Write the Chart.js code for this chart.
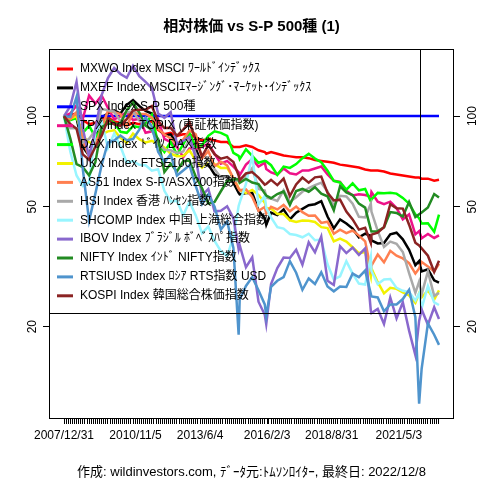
<!DOCTYPE html>
<html>
<head>
<meta charset="utf-8">
<script src="https://cdn.jsdelivr.net/npm/chart.js@4.4.0/dist/chart.umd.min.js"></script>
<title>相対株価 vs S-P 500種 (1)</title>
<style>
  html, body { margin: 0; padding: 0; background: #fff; }
  #wrap { position: relative; width: 480px; height: 480px; }
</style>
</head>
<body>
<div id="wrap"><canvas id="myChart" width="480" height="480"></canvas></div>
<script>
// x = months since 2007/12/31 (quarter ends plus a few spike dates)
const months = [0,3,6,9,12,15,18,21,24,27,30,33,36,39,42,45,48,51,54,57,60,63,66,69,72,75,78,81,
  83.5,84,87,90,93,96,96.7,
  99,102,105,108,111,114,117,120,123,126,129,132,135,138,141,144,
  146.7,147,150,153,156,159,162,165,168,
  169.8,171,174,177,179.3];

// x axis tick labels and where they sit (months)
const tickLabels = ['2007/12/31', '2010/11/5', '2013/6/4', '2016/2/3', '2018/8/31', '2021/5/3'];
const tickMonths = [0, 34.2, 65.1, 97.1, 128, 160.1];
const lastMonth = 179.3;
const yTicks = [20, 50, 100];

const names = [
  'MXWO Index MSCI ﾜｰﾙﾄﾞｲﾝﾃﾞｯｸｽ',
  'MXEF Index MSCIｴﾏｰｼﾞﾝｸﾞ･ﾏｰｹｯﾄ･ｲﾝﾃﾞｯｸｽ',
  'SPX Index S-P 500種',
  'TPX Index TOPIX (東証株価指数)',
  'DAX Index ﾄﾞｲﾂ DAX指数',
  'UKX Index FTSE100指数',
  'AS51 Index S-P/ASX200指数',
  'HSI Index 香港 ﾊﾝｾﾝ指数',
  'SHCOMP Index 中国 上海総合指数',
  'IBOV Index ﾌﾞﾗｼﾞﾙ ﾎﾞﾍﾞｽﾊﾟ指数',
  'NIFTY Index ｲﾝﾄﾞ NIFTY指数',
  'RTSIUSD Index ﾛｼｱ RTS指数 USD',
  'KOSPI Index 韓国総合株価指数'
];
const colors = ['#FF0000', '#000000', '#0000FF', '#EE1289', '#00FF00', '#F2F200', '#FF7F50',
  '#A9A9A9', '#98F5FF', '#8968CD', '#228B22', '#4F94CD', '#8B2323'];

const mxwo = [100,101,102,97,94,95,98,99,96,95,93,95,94,95,96,90,87,88,86,87,87,85,83,84,83,82,82,79,
  79,79,80,79,77,76,75,
  76,75,74,73.5,73,73,72.5,71.5,71,70.5,70,69,68.5,68,67.5,66.5,
  66,66,66,65.5,64.5,64,63.5,63,62.5,
  62.5,62,62,61,61.5];
const mxef = [100,98.5,98.5,79,74,86,99,102,104.5,102,109,113,108,104,102,92,86,87,81,82,87,78,69,69,64,63,63,60,
  55.6,55,55.5,55.6,48.6,45.8,43.6,
  47.8,46.9,49,45.4,47.8,49.2,50.6,51,52.2,46.4,42.4,45.4,44,42.3,39.6,40.7,
  40,38.7,37.8,37.9,40.5,41,39,36,32,
  33,30.5,31,28.5,28];
const spx = [100,100,100,100,100,100,100,100,100,100,100,100,100,100,100,100,100,100,100,100,100,100,100,100,100,100,100,100,
  100,100,100,100,100,100,100,
  100,100,100,100,100,100,100,100,100,100,100,100,100,100,100,100,
  100,100,100,100,100,100,100,100,100,
  100,100,100,100,100];
const tpx = [100,102,108.5,98,117,110,117,106.5,97.5,100,103,97,98,88,89,97.5,84,82,79,73,78,78,79,81,75,69.5,71,68,
  65.2,63.6,69,72,68,70,66.7,
  65,64,67,64.6,64,66,66,67,68,64,61,60.5,56.5,54.5,55,54.7,
  54,56,52,51,52,49.5,45.4,47.2,40.5,
  41.5,39.3,40.6,39.4,40.2];
const dax = [100,97,98.5,88,93,85,91,97.7,95,88.7,88,92.6,91.8,94,101,81,76,82,74.5,80.5,88,79,80,86,89,88,86,75.5,
  73.8,72,77.6,73.8,70,71,70.7,
  68.7,63.8,68,67.3,69.3,72.5,75,72.3,70.3,65.9,60.9,60.2,57,59.8,56.7,57.3,
  52.1,52.9,55.6,55.4,55.7,55.3,53.5,51.2,47.2,
  45.8,44,44.1,41.3,47.1];
const ukx = [100,98,100,85.7,82,80.5,87,89,89.7,84.7,81.6,87.5,83.8,81.7,82.8,81,78.6,75,73.6,73.7,77,71.2,67.4,71.2,69.3,67.3,67.4,62.3,
  57.7,56.9,55.5,56.9,54.7,51.6,49.5,
  49.3,47.3,47.3,45.1,44.5,45,44.9,44.5,42.8,42.5,38.4,39.2,38.3,36.7,35.1,35.4,
  29.4,31.2,28.1,25.8,26.9,26.7,26,25.4,24,
  25.8,25,26.4,24.6,26.4];
const as51 = [100,97.7,103,83,73.5,80.7,91.5,104,103,101.5,92.6,102.6,101.6,101.6,98.9,90.9,86.9,84.3,81,83.6,89.6,87,72.4,76.5,68.2,70.6,68.6,62.1,
  57.4,56.7,57.1,53.9,48.5,49.9,47.5,
  50,49,50.7,48.3,50.1,48,46.7,46.8,44.2,44.6,40.7,42,40.9,41.7,40.1,38.4,
  31.1,31.9,34.7,32.7,35.7,34.4,33.7,32.5,30,
  31.2,32.8,31.7,30.5,32.3];
const hsi = [100,91.2,91.2,81.6,84.1,89.7,105.6,104.6,103.5,96,103,103.5,96.6,93.7,89.5,82.2,77.3,77,75.3,76.3,83.9,75,68.4,71.7,66.6,62.5,62.5,61.4,
  60.7,60.5,63.5,67.2,57.3,56.6,53.6,
  53.2,52.3,56.7,51.9,53.8,56.1,57.7,59,60.1,56.2,50.3,54.4,54.1,51.2,46.3,46.1,
  51.2,48.2,41.6,36.8,38.3,37.7,35.4,30.1,25.9,
  28.2,25.6,30.5,25.3,25.9];
const shcomp = [100,76.3,63.5,58.6,60.2,88.6,96,78.4,87.6,79.4,69.9,70.9,68.9,68.7,65.9,66.6,56.5,52,52.4,46.9,52,46.8,40.9,43,38.5,35.6,34.3,39.8,
  50.3,51.6,59.5,74,50.9,54.4,49.6,
  46.1,42.8,42.3,40.6,40.3,39.6,40.7,38.7,38.9,32.2,28.7,29.4,33,30,27.8,27.6,
  34.1,30.6,27.7,28.7,28.8,26.9,26.3,26.1,24.4,
  25.8,23,27.3,24.1,23.6];
const ibov = [100,107.8,130,91,73,90.4,117.5,133.7,144.5,138,134,147,135.7,129.9,123.9,102,98.7,103,80.8,82.7,85.3,72.7,54.5,57.3,48.3,48.5,50.2,45.8,
  36.1,37.3,31.5,34,24.2,21.9,20.4,
  27.7,31.3,33.9,33.8,36,32.1,38.1,35.3,39.8,28.4,27.5,37,35.1,36.6,34.6,36.4,
  22.6,22.2,22.9,20.4,25,21.3,24.1,19.4,16.1,
  20.9,22.8,20.3,23.2,21.2];
const nifty = [100,84.3,69.3,67.7,63.6,70.3,91.9,94.4,94.4,94.2,104.7,110.9,102.8,92.9,90.1,84,65.2,69.5,65.5,70.8,71.2,62.9,57.6,51.3,51.9,56.3,60.9,61.6,
  61.8,60.1,61.9,60.2,59.5,55.3,54.5,
  53.4,55.1,56.2,50.7,56.4,57.3,56.1,58.1,55.3,54.2,48.7,58.5,55.8,54.7,51.2,49.7,
  42,41.4,41.5,42.7,48,47.7,46.4,51.9,46.2,
  47.2,47.9,49.7,55.1,53.7];
const rtsiusd = [100,99.4,115.8,66.6,44.9,55.3,68.8,81.7,83,86.2,83.2,83.9,90.2,98.8,92.4,76.1,70.4,74.6,63.5,66,68.7,58.5,51,55,50,42,44.7,36.5,
  18.8,24.6,27.3,29.2,26.4,23.7,21.7,
  27.1,28.4,29.2,33,30.2,26.5,28.9,27.7,30.3,27.2,26.2,27.2,27.1,30,29.2,30.7,
  25.7,25.2,25,22.5,23.7,23.7,24.7,26.5,21.5,
  11.1,14.5,20.5,18.8,17.4];
const kospi = [100,94.2,90.8,74.6,71.6,79.1,86.1,97.4,93.9,92.8,97.7,104.4,104.9,105,107.9,96.2,91.3,91.5,86,90.2,95.4,83.3,73.5,80.1,74.7,72.2,73.1,70.4,
  63.5,61.3,64.5,65.2,62.5,59.2,59.5,
  61.4,59,62,54.3,59.3,62.5,60.1,62.6,63,55.6,52.5,52.8,48.2,45.4,42,42.6,
  37.9,40.4,41,42.8,51,49.4,49.3,43.6,38,
  37.2,36.4,34.4,30.4,33.1];

const series = [mxwo, mxef, spx, tpx, dax, ukx, as51, hsi, shcomp, ibov, nifty, rtsiusd, kospi];

const FONT = '"Liberation Sans", Arial, "Noto Sans CJK JP", sans-serif';
Chart.defaults.font.family = FONT;
Chart.defaults.color = '#000';

// monthly tick marks, with the labelled ticks at their own positions
let xTickValues = [];
for (let m = 0; m <= Math.floor(lastMonth); m++) {
  if (!tickMonths.some(t => Math.abs(t - m) < 0.6)) xTickValues.push(m);
}
xTickValues = xTickValues.concat(tickMonths).sort((a, b) => a - b);

const xPad = lastMonth * 0.04;

const datasets = series.map((vals, i) => ({
  label: names[i],
  data: vals.map((v, j) => ({ x: months[j], y: v })),
  borderColor: colors[i],
  backgroundColor: colors[i],
  borderWidth: 2.5,
  pointRadius: 0,
  tension: 0,
  fill: false,
  order: series.length - i
}));

const decor = {
  id: 'decor',
  afterDraw(chart) {
    const ctx = chart.ctx;
    const a = chart.chartArea;
    const ys = chart.scales.y;
    ctx.save();
    // plot frame
    ctx.strokeStyle = '#000';
    ctx.lineWidth = 1;
    ctx.strokeRect(a.left + 0.5, a.top + 0.5, a.right - a.left - 1, a.bottom - a.top);

    // rotated y labels on both sides
    ctx.fillStyle = '#000';
    ctx.font = '12px ' + FONT;
    ctx.textAlign = 'center';
    ctx.textBaseline = 'middle';
    yTicks.forEach(v => {
      const py = ys.getPixelForValue(v);
      [33, 473].forEach(px => {
        ctx.save();
        ctx.translate(px, py);
        ctx.rotate(-Math.PI / 2);
        ctx.fillText(String(v), 0, 0);
        ctx.restore();
      });
    });

    // title and footer
    const cx = (a.left + a.right) / 2;
    ctx.font = 'bold 15px ' + FONT;
    ctx.fillText('相対株価 vs S-P 500種 (1)', cx, 27);
    ctx.font = '13px ' + FONT;
    ctx.fillText('作成: wildinvestors.com, ﾃﾞｰﾀ元:ﾄﾑｿﾝﾛｲﾀｰ, 最終日: 2022/12/8', cx, 472);

    // legend box (top left, transparent)
    ctx.font = '12px ' + FONT;
    ctx.strokeRect(a.left + 0.5, a.top + 0.5, 420 - a.left, 313 - a.top);
    ctx.textAlign = 'left';
    names.forEach((n, i) => {
      const ly = 69 + i * 18.9;
      ctx.strokeStyle = colors[i];
      ctx.lineWidth = 3;
      ctx.beginPath();
      ctx.moveTo(57, ly);
      ctx.lineTo(73, ly);
      ctx.stroke();
      ctx.fillStyle = '#000';
      ctx.fillText(n, 80, ly);
    });
    ctx.restore();
  }
};

const yAxis = (pos, w) => ({
  type: 'logarithmic',
  position: pos,
  min: 9.95,
  max: 167,
  afterBuildTicks: s => { s.ticks = yTicks.map(v => ({ value: v })); },
  afterFit: s => { s.width = w; },
  ticks: { callback: () => '' },
  grid: { drawOnChartArea: false, drawTicks: true, tickLength: 6, color: '#000', tickColor: '#000' },
  border: { display: false }
});

new Chart(document.getElementById('myChart'), {
  type: 'line',
  data: { datasets: datasets },
  plugins: [decor],
  options: {
    responsive: false,
    devicePixelRatio: 1,
    animation: false,
    layout: { padding: { top: 49, left: 0, right: 0, bottom: 0 } },
    plugins: { legend: { display: false }, title: { display: false }, tooltip: { enabled: false } },
    scales: {
      x: {
        type: 'linear',
        min: -xPad,
        max: lastMonth + xPad,
        afterBuildTicks: s => { s.ticks = xTickValues.map(v => ({ value: v })); },
        afterFit: s => { s.height = 62; },
        ticks: {
          autoSkip: false,
          maxRotation: 0,
          minRotation: 0,
          padding: 4,
          font: { size: 12 },
          callback: v => {
            const k = tickMonths.findIndex(t => Math.abs(t - v) < 1e-6);
            return k >= 0 ? tickLabels[k] : '';
          }
        },
        grid: { drawOnChartArea: false, drawTicks: true, tickLength: 6, color: '#000', tickColor: '#000' },
        border: { display: false }
      },
      y: yAxis('left', 49),
      y2: yAxis('right', 26)
    }
  }
});
</script>
</body>
</html>
